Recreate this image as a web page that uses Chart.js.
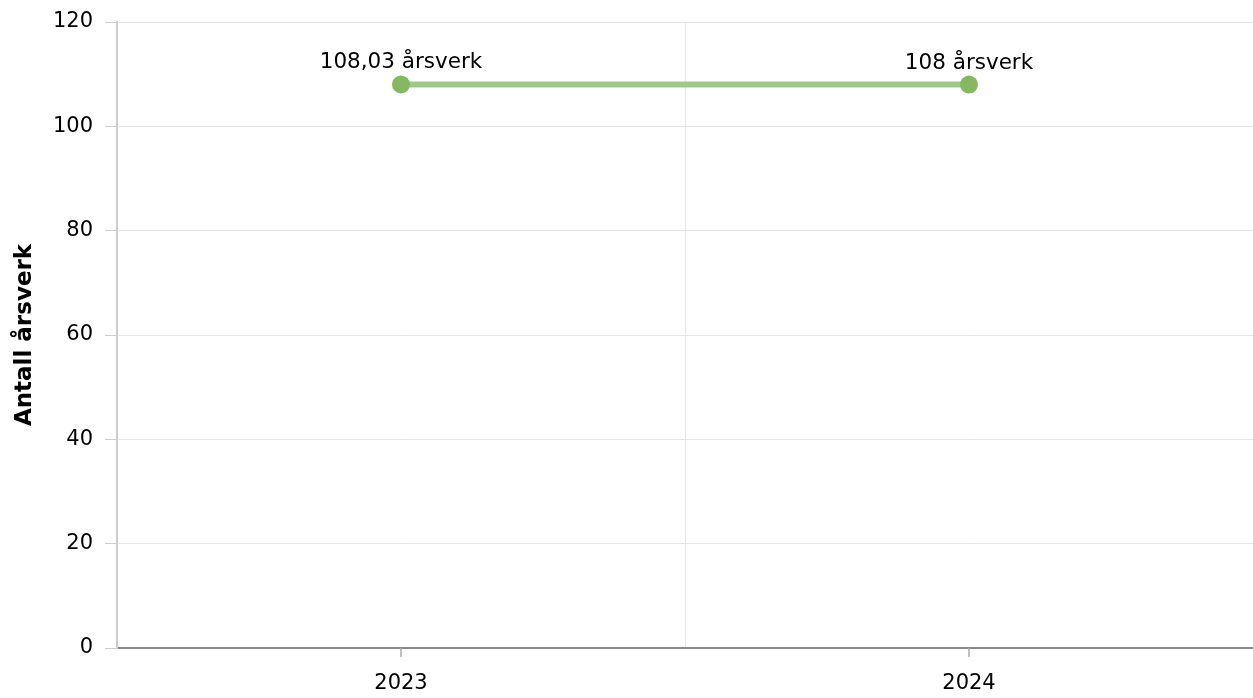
<!DOCTYPE html>
<html>
<head>
<meta charset="utf-8">
<script src="https://cdn.jsdelivr.net/npm/chart.js@4"></script>
<style>
  html, body { margin: 0; padding: 0; background: #fff; }
  #wrap { width: 1253px; height: 698px; }
</style>
</head>
<body>
<div id="wrap"><canvas id="arsverk-chart"></canvas></div>
<script>
const years = ['2023', '2024'];
const arsverk = [108.03, 108];
const pointLabels = ['108,03 årsverk', '108 årsverk'];
const yTicks = [0, 20, 40, 60, 80, 100, 120];

const chartEl = document.getElementById('arsverk-chart');
Chart.defaults.font.family = '"DejaVu Sans", Verdana, sans-serif';
Chart.defaults.color = '#000';

// tick marks under the categories (grid itself sits between them)
const xTickMarks = {
    id: 'xTickMarks',
    afterDraw(chart) {
        const x = chart.scales.x;
        const ctx = chart.ctx;
        ctx.save();
        ctx.strokeStyle = '#aaa';
        ctx.lineWidth = 1.5;
        x.ticks.forEach((t, i) => {
            const px = x.getPixelForTick(i);
            ctx.beginPath();
            ctx.moveTo(px, x.top);
            ctx.lineTo(px, x.top + 9);
            ctx.stroke();
        });
        ctx.restore();
    }
};

const valueLabels = {
    id: 'valueLabels',
    afterDatasetsDraw(chart) {
        const ctx = chart.ctx;
        const meta = chart.getDatasetMeta(0);
        ctx.save();
        ctx.font = '21.5px "DejaVu Sans", Verdana, sans-serif';
        ctx.fillStyle = '#000';
        ctx.textAlign = 'center';
        ctx.textBaseline = 'alphabetic';
        meta.data.forEach((pt, i) => {
            ctx.fillText(pointLabels[i], pt.x, pt.y - 16);
        });
        ctx.restore();
    }
};

new Chart(chartEl, {
    type: 'line',
    data: {
        labels: years,
        datasets: [{
            label: 'Antall årsverk',
            data: arsverk,
            borderColor: '#9dc987',
            borderWidth: 6,
            pointRadius: 9,
            pointHoverRadius: 9,
            pointBackgroundColor: '#84b962',
            pointBorderWidth: 0,
            tension: 0
        }]
    },
    options: {
        responsive: true,
        maintainAspectRatio: false,
        animation: false,
        layout: { autoPadding: false, padding: { top: 22, right: 0, left: 0, bottom: 0 } },
        plugins: {
            legend: { display: false },
            tooltip: { enabled: false }
        },
        scales: {
            x: {
                offset: true,
                grid: { offset: true, drawTicks: false, color: '#e6e6e6', lineWidth: 1 },
                border: { color: '#888', width: 2 },
                ticks: { padding: 23, font: { size: 21 } },
                afterFit: s => { s.height = 50; s.paddingLeft = 0; s.paddingRight = 0; }
            },
            y: {
                min: 0,
                max: 120,
                afterBuildTicks: s => { s.ticks = yTicks.map(v => ({ value: v })); },
                grid: { color: '#e6e6e6', tickColor: '#ccc', tickLength: 12 },
                border: { color: '#ccc', width: 2 },
                ticks: { padding: 12, font: { size: 21 } },
                title: {
                    display: true,
                    text: 'Antall årsverk',
                    font: { size: 23, weight: 'bold' },
                    padding: { top: 11, bottom: 0 }
                },
                afterFit: s => { s.width = 117; s.paddingTop = 0; s.paddingBottom = 0; }
            }
        }
    },
    plugins: [xTickMarks, valueLabels]
});
</script>
</body>
</html>
